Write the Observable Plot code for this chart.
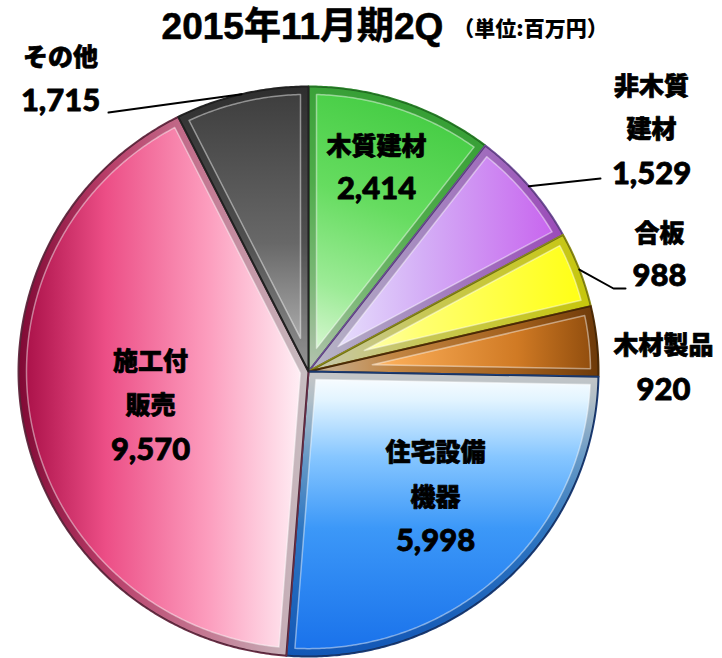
<!DOCTYPE html>
<html><head><meta charset="utf-8">
<script src="https://cdn.jsdelivr.net/npm/d3@7"></script>
<script src="https://cdn.jsdelivr.net/npm/@observablehq/plot@0.6"></script>
<style>
body{margin:0;background:#fff}
#chart svg{display:block}
g[aria-label="cjk-label"] text{letter-spacing:3px}
g[aria-label="unit-label"] text{letter-spacing:1px}
</style></head><body><div id="chart"></div>
<script>
// ---- data ----
const categories = ["木質建材","非木質建材","合板","木材製品","住宅設備機器","施工付販売","その他"];
const values = [2414,1529,988,920,5998,9570,1715];
const nameLines = [["木質建材"],["非木質","建材"],["合板"],["木材製品"],["住宅設備","機器"],["施工付","販売"],["その他"]];
const valueLabels = ["2,414","1,529","988","920","5,998","9,570","1,715"];
const titleText = "2015年11月期2Q";
const unitText = "（単位:百万円）";

// ---- layout / style ----
const W = 722, H = 658;
const pieGeom = {cx: 308, cy: 371, rx: 290, ry: 285};
const labelLayout = [
  {x: 376, lines: [146], value: 189, leader: null},
  {x: 651, lines: [86, 129], value: 174, leader: [[600,178]]},
  {x: 659, lines: [233], value: 276, leader: [[613,288],[625,288]]},
  {x: 663, lines: [345], value: 390, leader: null},
  {x: 435, lines: [452, 497], value: 541, leader: null},
  {x: 150, lines: [361, 405], value: 450, leader: null},
  {x: 60, lines: [57], value: 101, leader: [[108,112]]}
];
const sliceStyles = [
  {dir:[0.8,0,0.2,1], stops:[[0,"#3cc83c"],[0.45,"#66dc60"],[0.75,"#9ceb96"],[1,"#e0f8da"]], edge:"#2a842a"},
  {dir:[0,0.5,1,0.5], stops:[[0,"#eceefe"],[0.45,"#d4aef6"],[1,"#c760ee"]], edge:"#74509e"},
  {dir:[0,0.5,1,0.5], stops:[[0,"#ffffe8"],[0.4,"#ffff70"],[1,"#ffff10"]], edge:"#909018"},
  {dir:[0,0.5,1,0.5], stops:[[0,"#ffe8c8"],[0.3,"#f8aa55"],[0.72,"#d07a24"],[1,"#8c4a0c"]], edge:"#553008"},
  {dir:[0,0,0,1], stops:[[0,"#ffffff"],[0.1,"#e2f4ff"],[0.3,"#86c6ff"],[0.55,"#3c98f8"],[1,"#1870ea"]], edge:"#1c3e7a"},
  {dir:[0,0.5,1,0.5], stops:[[0,"#a50c44"],[0.3,"#ec4e86"],[0.65,"#fc9cbd"],[1,"#fff5f9"]], edge:"#6c3048"},
  {dir:[0,0,0,1], stops:[[0,"#3c3c3c"],[0.55,"#686868"],[1,"#c0c0c0"]], edge:"#262626"}
];

const data = categories.map((c,i)=>({key:c, value:values[i], i}));
const arcs = d3.pie().sort(null).value(d=>d.value).startAngle(0).endAngle(2*Math.PI)(data);

const {cx, cy, rx, ry} = pieGeom;
const sy = ry / rx;
function toXY(px, py){ return {x: cx + px, y: cy + py * sy}; }
function wedge(a0, a1, d){
  const r = rx;
  const pts = [];
  const half = (a1 - a0) / 2, mid = (a0 + a1) / 2;
  const t = d > 0 ? d / Math.sin(half) : 0;
  pts.push(toXY(t*Math.sin(mid), -t*Math.cos(mid)));
  const R = r - d;
  const del = d > 0 ? Math.asin(d / R) : 0;
  const b0 = a0 + del, b1 = a1 - del;
  const n = Math.max(2, Math.ceil((b1 - b0) / (Math.PI/360)));
  for (let k = 0; k <= n; k++){
    const a = b0 + (b1 - b0) * k / n;
    pts.push(toXY(R*Math.sin(a), -R*Math.cos(a)));
  }
  return pts;
}

const marks = [];
const gradDefs = [];
arcs.forEach((s, i) => {
  const st = sliceStyles[i];
  const outer = wedge(s.startAngle, s.endAngle, 0);
  const inner = wedge(s.startAngle, s.endAngle, 8);
  const xs = outer.map(p=>p.x), ys = outer.map(p=>p.y);
  const x0 = d3.min(xs), x1 = d3.max(xs), y0 = d3.min(ys), y1 = d3.max(ys);
  gradDefs.push({id:`g${i}`, x1: x0 + st.dir[0]*(x1-x0), y1: y0 + st.dir[1]*(y1-y0), x2: x0 + st.dir[2]*(x1-x0), y2: y0 + st.dir[3]*(y1-y0), stops: st.stops});
  marks.push(Plot.line(outer, {x:"x", y:"y", curve:"linear-closed", fill:`url(#g${i})`, stroke: st.edge, strokeWidth: 2}));
  marks.push(Plot.line(outer, {x:"x", y:"y", curve:"linear-closed", fill:"#000", fillOpacity:0.22, stroke:"none"}));
  marks.push(Plot.line(inner, {x:"x", y:"y", curve:"linear-closed", fill:`url(#g${i})`, stroke:"#fff", strokeOpacity:0.45, strokeWidth:1.5}));
});

// leader lines
arcs.forEach((s, i) => {
  const L = labelLayout[i];
  if (!L.leader) return;
  const mid = (s.startAngle + s.endAngle) / 2;
  const start = toXY(rx*Math.sin(mid), -rx*Math.cos(mid));
  const pts = [start, ...L.leader.map(([x,y])=>({x,y}))];
  marks.push(Plot.line(pts, {x:"x", y:"y", stroke:"#000", strokeWidth:2}));
});

// labels
const cjkFont = "'Noto Sans CJK JP', sans-serif";
const numFont = "Lato, 'Open Sans', sans-serif";
const nameRows = [], valueRows = [];
arcs.forEach((s, i) => {
  const L = labelLayout[i];
  nameLines[i].forEach((t, k) => nameRows.push({x: L.x, y: L.lines[k], t}));
  valueRows.push({x: L.x, y: L.value, t: valueLabels[i]});
});
marks.push(Plot.text(nameRows, {x:"x", y:"y", text:"t", fontSize:25, fontWeight:900, fontFamily:cjkFont, fill:"#000", stroke:"#000", strokeWidth:0.7, ariaLabel:"cjk-label"}));
marks.push(Plot.text(valueRows, {x:"x", y:"y", text:"t", fontSize:31, fontWeight:900, fontFamily:numFont, fill:"#000", stroke:"#000", strokeWidth:0.8}));
marks.push(Plot.text([{x:302, y:27, t:titleText}], {x:"x", y:"y", text:"t", fontSize:37, fontWeight:700, fontFamily:"'Liberation Sans', 'Noto Sans CJK JP', sans-serif", fill:"#000", stroke:"#000", strokeWidth:0.6}));
marks.push(Plot.text([{x:530, y:29, t:unitText}], {x:"x", y:"y", text:"t", fontSize:21, fontWeight:900, fontFamily:cjkFont, fill:"#000", ariaLabel:"unit-label"}));

const chart = Plot.plot({
  width: W, height: H, margin: 0,
  x: {domain:[0, W], range:[0, W], axis:null},
  y: {domain:[0, H], range:[0, H], axis:null},
  style: {background:"#fff", overflow:"hidden"},
  marks
});

const svg = d3.select(chart);
const defs = svg.insert("defs", ":first-child");
gradDefs.forEach(g => {
  const lg = defs.append("linearGradient").attr("id", g.id).attr("gradientUnits","userSpaceOnUse")
    .attr("x1", g.x1).attr("y1", g.y1).attr("x2", g.x2).attr("y2", g.y2);
  g.stops.forEach(([o,c]) => lg.append("stop").attr("offset", o).attr("stop-color", c));
});
document.getElementById("chart").appendChild(chart);
</script>
</body></html>
